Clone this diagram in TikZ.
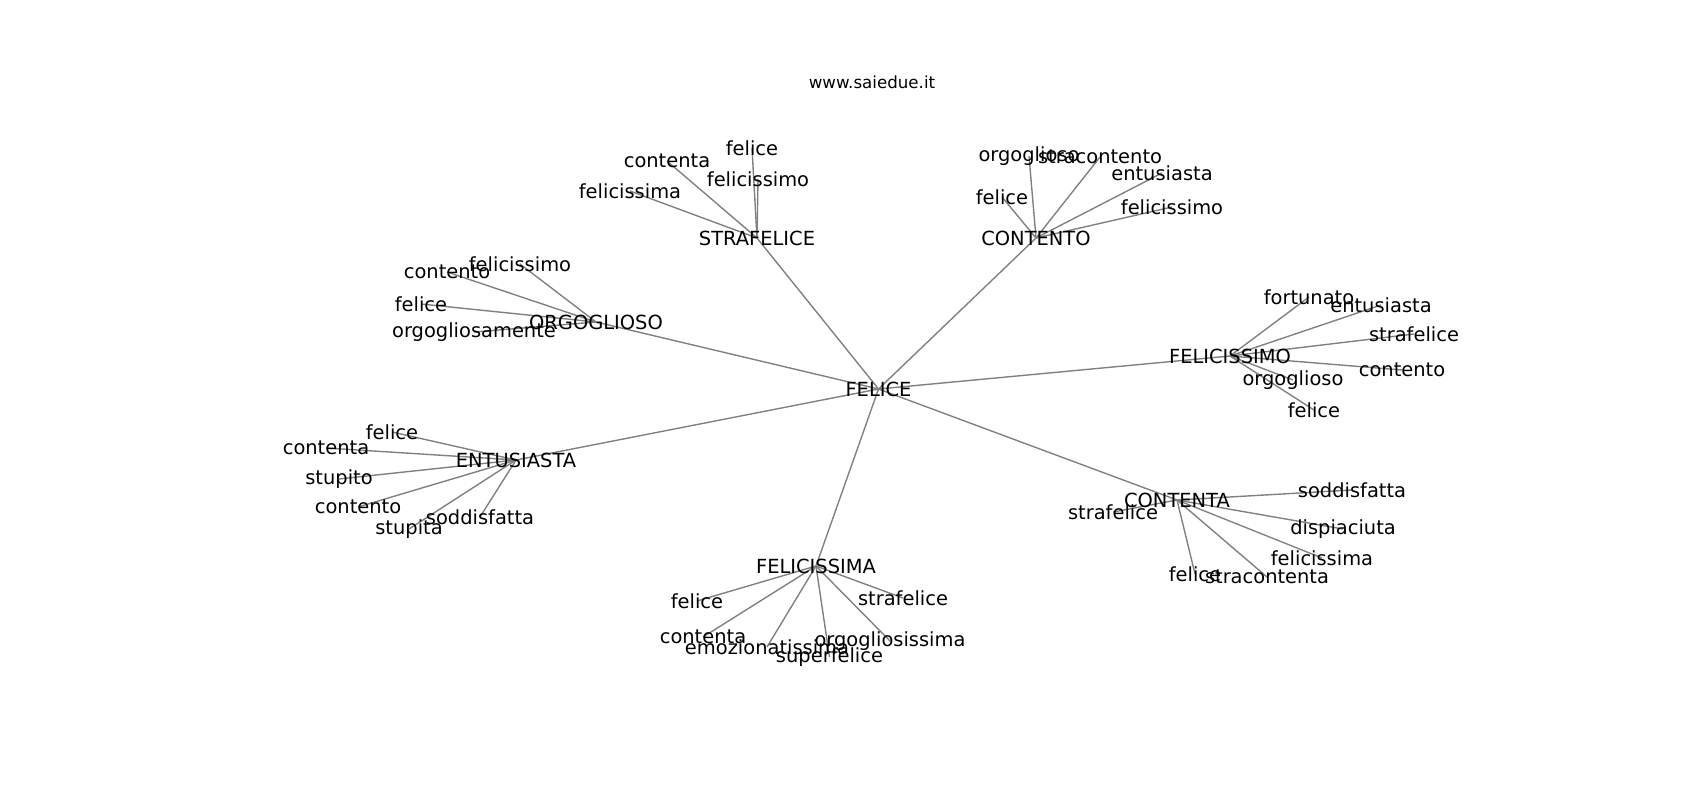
\documentclass[tikz,border=0pt]{standalone}
\usepackage{fontspec}
\setmainfont{DejaVu Sans}
\usepackage{tikz}
\usetikzlibrary{backgrounds}

\tikzset{
  word/.style={inner sep=0pt, font=\fontsize{14}{16}\selectfont},
  link/.style={draw=gray, line width=1pt}
}

\begin{document}
\begin{tikzpicture}[x=0.72pt, y=-0.72pt]
  \useasboundingbox (0,0) rectangle (1700,800);
  \node[inner sep=0pt, font=\fontsize{12}{14}\selectfont] (title) at (872,82) {www.saiedue.it};

  % centre and hubs
  \node[word] (felice) at (878.5,389) {FELICE};
  \node[word] (strafelice) at (757,238) {STRAFELICE};
  \node[word] (orgoglioso) at (596,322) {ORGOGLIOSO};
  \node[word] (contento) at (1036,238) {CONTENTO};
  \node[word] (felicissimo) at (1230,356) {FELICISSIMO};
  \node[word] (entusiasta) at (516,460) {ENTUSIASTA};
  \node[word] (felicissima) at (816,566) {FELICISSIMA};
  \node[word] (contenta) at (1177,500) {CONTENTA};

  % STRAFELICE
  \node[word] (sf-felice) at (752,148) {felice};
  \node[word] (sf-felicissimo) at (758,179) {felicissimo};
  \node[word] (sf-contenta) at (667,161) {contenta};
  \node[word] (sf-felicissima) at (630,191) {felicissima};

  % ORGOGLIOSO
  \node[word] (or-felicissimo) at (520,264) {felicissimo};
  \node[word] (or-contento) at (447,272) {contento};
  \node[word] (or-felice) at (421,304) {felice};
  \node[word] (or-orgogliosamente) at (474,332) {orgogliosamente};

  % CONTENTO
  \node[word] (co-orgoglioso) at (1029,156) {orgoglioso};
  \node[word] (co-stracontento) at (1100,157) {stracontento};
  \node[word] (co-entusiasta) at (1162,173) {entusiasta};
  \node[word] (co-felice) at (1002,197) {felice};
  \node[word] (co-felicissimo) at (1172,207) {felicissimo};

  % FELICISSIMO
  \node[word] (fo-fortunato) at (1309,297) {fortunato};
  \node[word] (fo-entusiasta) at (1381,305) {entusiasta};
  \node[word] (fo-strafelice) at (1414,334) {strafelice};
  \node[word] (fo-contento) at (1402,370) {contento};
  \node[word] (fo-orgoglioso) at (1293,380) {orgoglioso};
  \node[word] (fo-felice) at (1314,410) {felice};

  % ENTUSIASTA
  \node[word] (en-felice) at (392,432) {felice};
  \node[word] (en-contenta) at (326,448) {contenta};
  \node[word] (en-stupito) at (339,479) {stupito};
  \node[word] (en-contento) at (358,507) {contento};
  \node[word] (en-soddisfatta) at (480,517) {soddisfatta};
  \node[word] (en-stupita) at (409,529) {stupita};

  % FELICISSIMA
  \node[word] (fa-felice) at (697,601) {felice};
  \node[word] (fa-strafelice) at (903,598) {strafelice};
  \node[word] (fa-contenta) at (703,637) {contenta};
  \node[word] (fa-emozionatissima) at (767,647) {emozionatissima};
  \node[word] (fa-orgogliosissima) at (890,641) {orgogliosissima};
  \node[word] (fa-superfelice) at (829.5,657) {superfelice};

  % CONTENTA
  \node[word] (ca-strafelice) at (1113,512) {strafelice};
  \node[word] (ca-soddisfatta) at (1352,490) {soddisfatta};
  \node[word] (ca-dispiaciuta) at (1343,529) {dispiaciuta};
  \node[word] (ca-felicissima) at (1322,558) {felicissima};
  \node[word] (ca-felice) at (1195,574) {felice};
  \node[word] (ca-stracontenta) at (1267,577) {stracontenta};

  \begin{pgfonlayer}{background}
    \draw[link] (felice.center) -- (strafelice.center);
    \draw[link] (felice.center) -- (orgoglioso.center);
    \draw[link] (felice.center) -- (contento.center);
    \draw[link] (felice.center) -- (felicissimo.center);
    \draw[link] (felice.center) -- (entusiasta.center);
    \draw[link] (felice.center) -- (felicissima.center);
    \draw[link] (felice.center) -- (contenta.center);

    \draw[link] (strafelice.center) -- (sf-felice.center);
    \draw[link] (strafelice.center) -- (sf-felicissimo.center);
    \draw[link] (strafelice.center) -- (sf-contenta.center);
    \draw[link] (strafelice.center) -- (sf-felicissima.center);

    \draw[link] (orgoglioso.center) -- (or-felicissimo.center);
    \draw[link] (orgoglioso.center) -- (or-contento.center);
    \draw[link] (orgoglioso.center) -- (or-felice.center);
    \draw[link] (orgoglioso.center) -- (or-orgogliosamente.center);

    \draw[link] (contento.center) -- (co-orgoglioso.center);
    \draw[link] (contento.center) -- (co-stracontento.center);
    \draw[link] (contento.center) -- (co-entusiasta.center);
    \draw[link] (contento.center) -- (co-felice.center);
    \draw[link] (contento.center) -- (co-felicissimo.center);

    \draw[link] (felicissimo.center) -- (fo-fortunato.center);
    \draw[link] (felicissimo.center) -- (fo-entusiasta.center);
    \draw[link] (felicissimo.center) -- (fo-strafelice.center);
    \draw[link] (felicissimo.center) -- (fo-contento.center);
    \draw[link] (felicissimo.center) -- (fo-orgoglioso.center);
    \draw[link] (felicissimo.center) -- (fo-felice.center);

    \draw[link] (entusiasta.center) -- (en-felice.center);
    \draw[link] (entusiasta.center) -- (en-contenta.center);
    \draw[link] (entusiasta.center) -- (en-stupito.center);
    \draw[link] (entusiasta.center) -- (en-contento.center);
    \draw[link] (entusiasta.center) -- (en-soddisfatta.center);
    \draw[link] (entusiasta.center) -- (en-stupita.center);

    \draw[link] (felicissima.center) -- (fa-felice.center);
    \draw[link] (felicissima.center) -- (fa-strafelice.center);
    \draw[link] (felicissima.center) -- (fa-contenta.center);
    \draw[link] (felicissima.center) -- (fa-emozionatissima.center);
    \draw[link] (felicissima.center) -- (fa-orgogliosissima.center);
    \draw[link] (felicissima.center) -- (fa-superfelice.center);

    \draw[link] (contenta.center) -- (ca-strafelice.center);
    \draw[link] (contenta.center) -- (ca-soddisfatta.center);
    \draw[link] (contenta.center) -- (ca-dispiaciuta.center);
    \draw[link] (contenta.center) -- (ca-felicissima.center);
    \draw[link] (contenta.center) -- (ca-felice.center);
    \draw[link] (contenta.center) -- (ca-stracontenta.center);
  \end{pgfonlayer}
\end{tikzpicture}
\end{document}
